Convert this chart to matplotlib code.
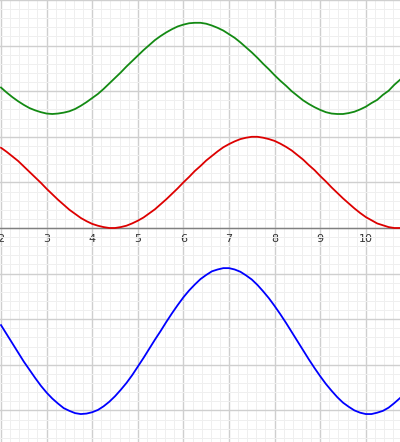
import matplotlib
matplotlib.use("Agg")
import matplotlib.pyplot as plt
from matplotlib.ticker import MultipleLocator

x_vals = [2.000, 2.125, 2.250, 2.375, 2.500, 2.625, 2.750, 2.875,
          3.000, 3.125, 3.250, 3.375, 3.500, 3.625, 3.750, 3.875,
          4.000, 4.125, 4.250, 4.375, 4.500, 4.625, 4.750, 4.875,
          5.000, 5.125, 5.250, 5.375, 5.500, 5.625, 5.750, 5.875,
          6.000, 6.125, 6.250, 6.375, 6.500, 6.625, 6.750, 6.875,
          7.000, 7.125, 7.250, 7.375, 7.500, 7.625, 7.750, 7.875,
          8.000, 8.125, 8.250, 8.375, 8.500, 8.625, 8.750, 8.875,
          9.000, 9.125, 9.250, 9.375, 9.500, 9.625, 9.750, 9.875,
          10.000, 10.125, 10.250, 10.375, 10.500, 10.625, 10.750]

green_vals = [3.08, 2.97, 2.87, 2.78, 2.70, 2.63, 2.58, 2.54,
              2.51, 2.50, 2.51, 2.53, 2.56, 2.61, 2.68, 2.76,
              2.85, 2.94, 3.05, 3.17, 3.29, 3.41, 3.54, 3.66,
              3.78, 3.90, 4.01, 4.12, 4.21, 4.29, 4.36, 4.42,
              4.46, 4.49, 4.50, 4.50, 4.48, 4.44, 4.39, 4.33,
              4.25, 4.17, 4.07, 3.96, 3.85, 3.73, 3.60, 3.48,
              3.35, 3.23, 3.12, 3.00, 2.90, 2.80, 2.72, 2.65,
              2.59, 2.54, 2.51, 2.50, 2.50, 2.52, 2.55, 2.60,
              2.66, 2.74, 2.81, 2.92, 3.01, 3.14, 3.25]

red_vals = [1.76, 1.67, 1.57, 1.47, 1.35, 1.23, 1.11, 0.99,
            0.86, 0.74, 0.62, 0.51, 0.40, 0.31, 0.22, 0.15,
            0.09, 0.05, 0.02, 0.00, 0.00, 0.02, 0.05, 0.10,
            0.16, 0.23, 0.32, 0.41, 0.52, 0.63, 0.75, 0.87,
            1.00, 1.12, 1.25, 1.36, 1.48, 1.58, 1.68, 1.77,
            1.84, 1.90, 1.95, 1.98, 2.00, 2.00, 1.98, 1.95,
            1.91, 1.85, 1.78, 1.70, 1.60, 1.50, 1.38, 1.27,
            1.14, 1.02, 0.89, 0.77, 0.65, 0.54, 0.43, 0.33,
            0.24, 0.17, 0.10, 0.06, 0.02, 0.00, 0.00]

blue_vals = [-2.13, -2.33, -2.53, -2.73, -2.93, -3.11, -3.29, -3.46,
             -3.61, -3.74, -3.85, -3.95, -4.01, -4.06, -4.08, -4.07,
             -4.04, -3.99, -3.91, -3.81, -3.69, -3.55, -3.40, -3.23,
             -3.04, -2.85, -2.65, -2.45, -2.26, -2.06, -1.87, -1.69,
             -1.52, -1.37, -1.24, -1.12, -1.03, -0.95, -0.91, -0.88,
             -0.88, -0.91, -0.96, -1.04, -1.13, -1.25, -1.39, -1.54,
             -1.71, -1.89, -2.08, -2.28, -2.48, -2.68, -2.88, -3.07,
             -3.25, -3.42, -3.57, -3.71, -3.83, -3.92, -4.00, -4.05,
             -4.08, -4.08, -4.05, -4.01, -3.94, -3.84, -3.73]

x_tick_labels = ["2", "3", "4", "5", "6", "7", "8", "9", "10"]
x_ticks = [2, 3, 4, 5, 6, 7, 8, 9, 10]

fig = plt.figure(figsize=(4.0, 4.42), dpi=100)
ax = fig.add_axes([0, 0, 1, 1])

ax.set_xlim(1.978, 10.75)
ax.set_ylim(-4.693, 5.0)

ax.xaxis.set_major_locator(MultipleLocator(1))
ax.xaxis.set_minor_locator(MultipleLocator(0.2))
ax.yaxis.set_major_locator(MultipleLocator(1))
ax.yaxis.set_minor_locator(MultipleLocator(0.2))

ax.grid(which="major", color="#cfcfcf", linewidth=1.0, zorder=0)
ax.grid(which="minor", color="#efefef", linewidth=0.7, zorder=0)
ax.set_axisbelow(True)

for side in ["top", "right", "left"]:
    ax.spines[side].set_visible(False)
ax.spines["bottom"].set_position(("data", 0))
ax.spines["bottom"].set_color("#808080")
ax.spines["bottom"].set_linewidth(1.0)

ax.set_xticks(x_ticks)
ax.set_xticklabels(x_tick_labels)
ax.tick_params(axis="x", which="both", length=0, pad=4, labelsize=8, labelcolor="#333333")
ax.tick_params(axis="y", which="both", length=0, labelleft=False)

ax.plot(x_vals, green_vals, color="#138a13", linewidth=1.3, zorder=3)
ax.plot(x_vals, red_vals, color="#dd0000", linewidth=1.3, zorder=3)
ax.plot(x_vals, blue_vals, color="#0000ff", linewidth=1.3, zorder=3)

fig.savefig("out.png", dpi=100)
